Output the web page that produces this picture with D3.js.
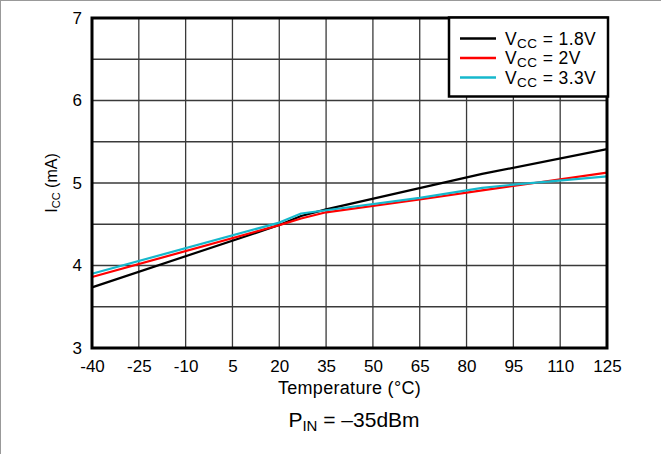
<!DOCTYPE html>
<html><head><meta charset="utf-8">
<script src="https://cdn.jsdelivr.net/npm/d3@7"></script>
<style>
body{margin:0;background:#fff;}
text{font-family:"Liberation Sans",Arial,sans-serif;fill:#000;}
</style></head>
<body>
<svg id="c" width="661" height="454"></svg>
<script>
const xTicks = [-40,-25,-10,5,20,35,50,65,80,95,110,125];
const yTicks = [3,4,5,6,7];
const yGrid = [3,3.5,4,4.5,5,5.5,6,6.5,7];

const tempV18 = [-40,20,27,35,85,125];
const iccV18  = [3.735,4.49,4.60,4.68,5.11,5.41];
const tempV2  = [-40,20,27,35,65,85,125];
const iccV2   = [3.86,4.49,4.57,4.645,4.80,4.91,5.125];
const tempV33 = [-40,20,27,35,65,85,95,125];
const iccV33  = [3.90,4.52,4.63,4.67,4.82,4.94,4.98,5.08];

const seriesNames = ["1.8V","2V","3.3V"];
const seriesColors = ["#000000","#ff0000","#16b8cc"];

const svg = d3.select("#c");
const L=92, R=607, T=18, B=348;
const x = d3.scaleLinear().domain([-40,125]).range([L,R]);
const y = d3.scaleLinear().domain([3,7]).range([B,T]);
const FF = "Liberation Sans, Arial, sans-serif";

// outer frame (left & top)
svg.append("line").attr("x1",0.5).attr("x2",0.5).attr("y1",0).attr("y2",454).attr("stroke","#999");
svg.append("line").attr("x1",0).attr("x2",661).attr("y1",0.5).attr("y2",0.5).attr("stroke","#999");

// grid
svg.append("g").selectAll("line").data(xTicks).join("line")
  .attr("x1",d=>x(d)).attr("x2",d=>x(d)).attr("y1",T).attr("y2",B)
  .attr("stroke","#3a3a3a").attr("stroke-width",1.3);
svg.append("g").selectAll("line").data(yGrid).join("line")
  .attr("x1",L).attr("x2",R).attr("y1",d=>y(d)).attr("y2",d=>y(d))
  .attr("stroke","#3a3a3a").attr("stroke-width",1.3);

// series
const data = [
  tempV18.map((t,i)=>[t,iccV18[i]]),
  tempV2.map((t,i)=>[t,iccV2[i]]),
  tempV33.map((t,i)=>[t,iccV33[i]])
];
const line = d3.line().x(d=>x(d[0])).y(d=>y(d[1]));
[0,1,2].forEach(i=>{
  svg.append("path").attr("d",line(data[i])).attr("fill","none")
    .attr("stroke",seriesColors[i]).attr("stroke-width",2.2).attr("stroke-linejoin","round");
});

// plot border
svg.append("rect").attr("x",L).attr("y",T).attr("width",R-L).attr("height",B-T)
  .attr("fill","none").attr("stroke","#000").attr("stroke-width",3);

// axes labels
const xAxis = d3.axisBottom(x).tickValues(xTicks).tickSize(0).tickPadding(12).tickFormat(d=>String(d));
const gx = svg.append("g").attr("transform",`translate(0,${B})`).call(xAxis);
gx.select(".domain").remove();
gx.selectAll("text").style("font-size","17px").attr("font-family",FF).attr("fill","#000");

const yAxis = d3.axisLeft(y).tickValues(yTicks).tickSize(0).tickPadding(10).tickFormat(d3.format("d"));
const gy = svg.append("g").attr("transform",`translate(${L},0)`).call(yAxis);
gy.select(".domain").remove();
gy.selectAll("text").style("font-size","17px").attr("font-family",FF).attr("fill","#000");

// axis titles
svg.append("text").attr("x",(L+R)/2).attr("y",394).attr("text-anchor","middle")
  .style("font-size","18px").style("letter-spacing","0.3px").text("Temperature (°C)");

const yl = svg.append("text").attr("transform",`translate(57,${y(5)}) rotate(-90)`)
  .attr("text-anchor","middle").style("font-size","16px");
yl.append("tspan").text("I");
yl.append("tspan").attr("dy",3).style("font-size","11px").text("CC");
yl.append("tspan").attr("dy",-3).text(" (mA)");

const pt = svg.append("text").attr("x",354).attr("y",427).attr("text-anchor","middle").style("font-size","21px");
pt.append("tspan").text("P");
pt.append("tspan").attr("dy",4).style("font-size","15px").text("IN");
pt.append("tspan").attr("dy",-4).text(" = \u201335dBm");

// legend
const lg = svg.append("g");
lg.append("rect").attr("x",449).attr("y",17.5).attr("width",159).attr("height",79)
  .attr("fill","#fff").attr("stroke","#000").attr("stroke-width",2.5);
const rowY=[38.5,58,77.5];
seriesNames.forEach((n,i)=>{
  lg.append("line").attr("x1",460).attr("x2",496).attr("y1",rowY[i]).attr("y2",rowY[i])
    .attr("stroke",seriesColors[i]).attr("stroke-width",2.5);
  const t = lg.append("text").attr("x",505).attr("y",rowY[i]+6).style("font-size","17.5px").style("letter-spacing","0.4px");
  t.append("tspan").text("V");
  t.append("tspan").attr("dy",3).style("font-size","13.5px").text("CC");
  t.append("tspan").attr("dy",-3).text(" = "+n);
});
</script>
</body></html>
